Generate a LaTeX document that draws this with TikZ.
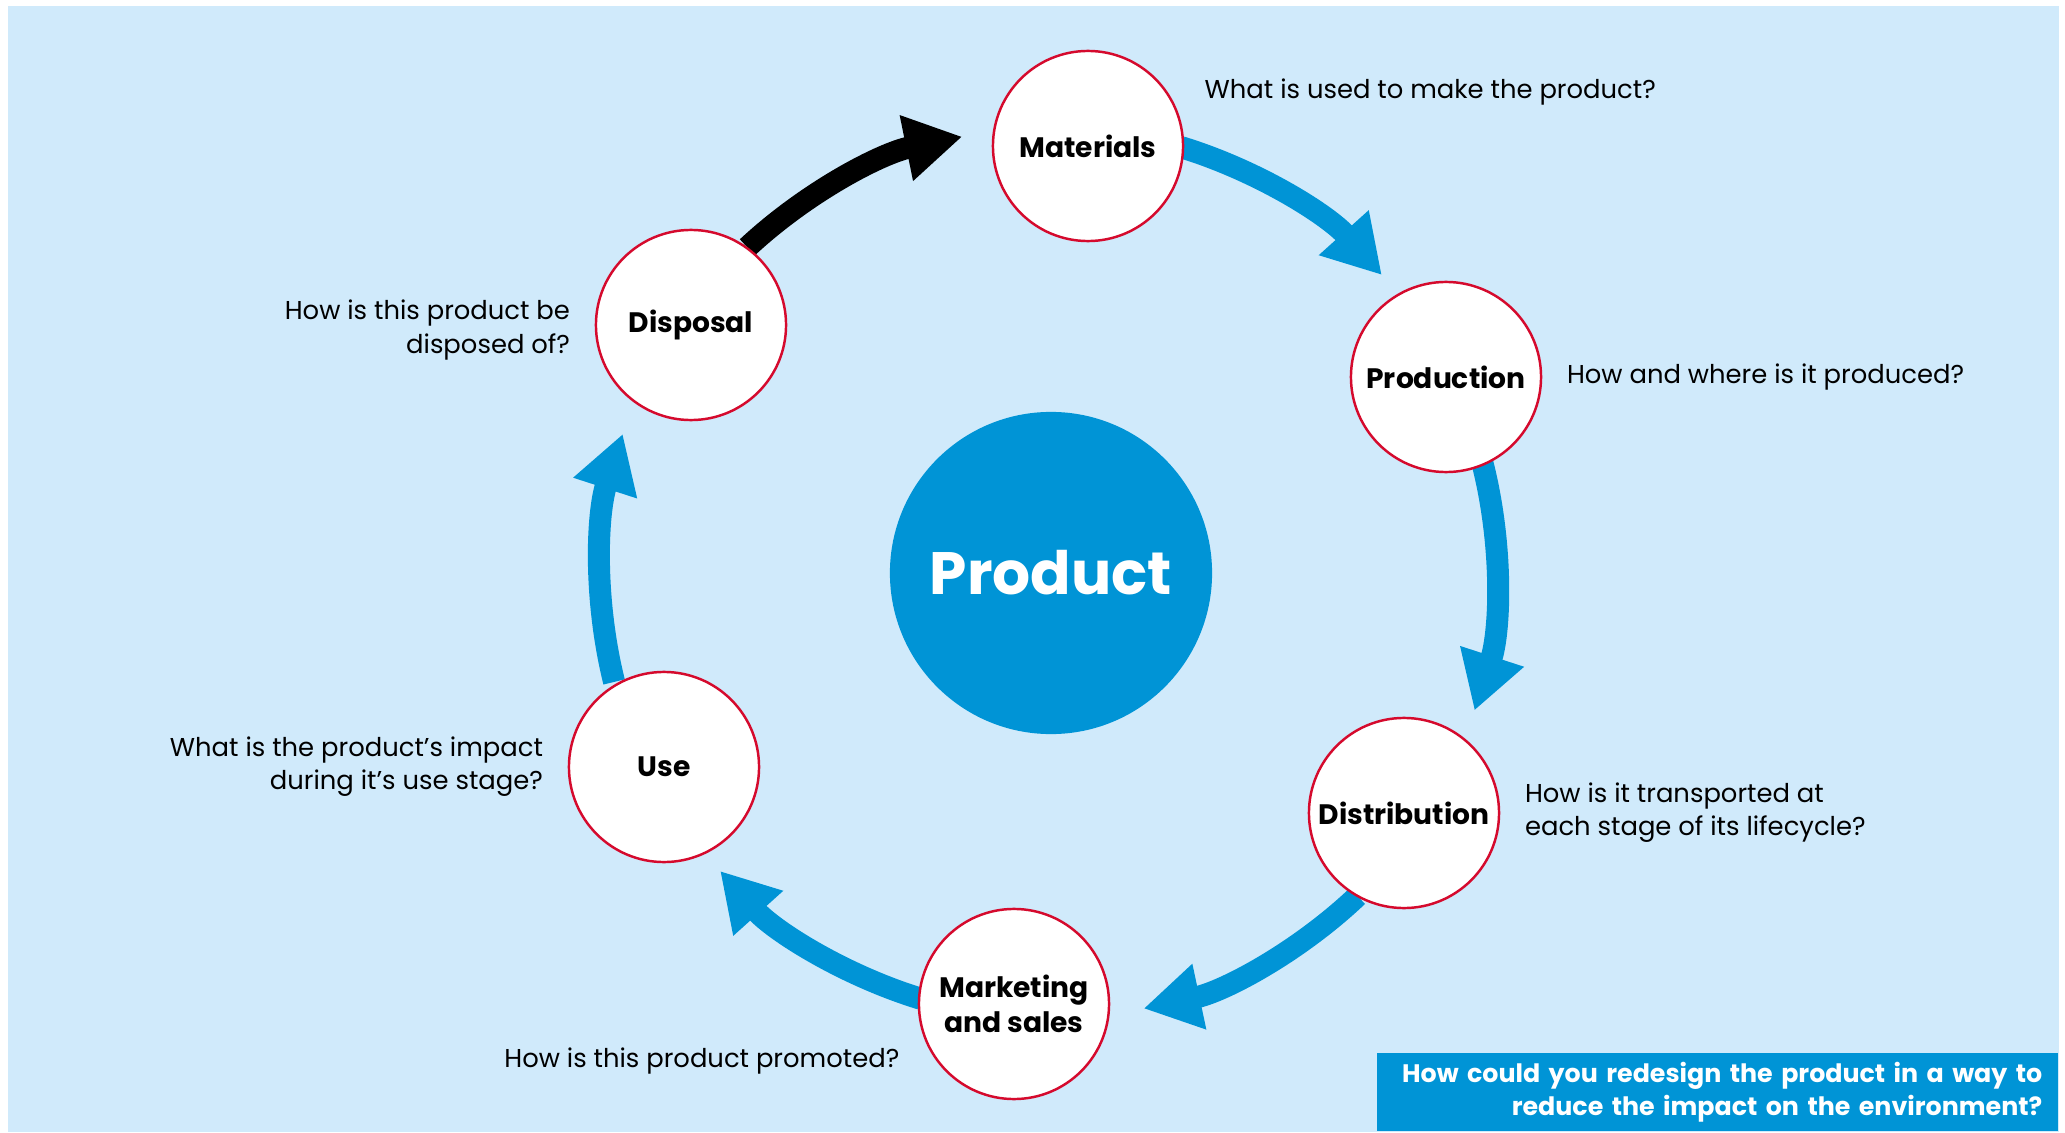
\documentclass[tikz,border=0pt]{standalone}
\usepackage{fontspec}
\setmainfont{Poppins}
\usetikzlibrary{positioning, arrows.meta}

\definecolor{skyback}{RGB}{208,234,251}
\definecolor{prodblue}{RGB}{0,148,214}
\definecolor{ringred}{RGB}{213,10,45}

\begin{document}
\begin{tikzpicture}[x=0.01cm, y=0.01cm, node distance=0.24cm,
stage/.style={circle, draw=ringred, line width=0.7pt, fill=white, minimum size=1.9cm, inner sep=0pt, align=center, font=\bfseries\fontsize{8}{10}\selectfont},
ask/.style={inner sep=0pt, font=\fontsize{7.35}{9.4}\selectfont},
flow/.style={prodblue, line width=0.22cm, -{Triangle[width=0.63cm, length=0.57cm]}},
askbox/.style={fill=prodblue, text=white, inner xsep=0.16cm, inner ysep=0pt, text width=6.49cm, minimum height=0.78cm, align=right, font=\bfseries\fontsize{7.2}{9.2}\selectfont}]
\useasboundingbox (0,0) rectangle (2065,1132);
\fill[skyback] (8,0) rectangle (2059,1126);

\node (P) [circle, fill=prodblue, minimum size=3.22cm, text=white, font=\bfseries\fontsize{17}{20}\selectfont] at (1051,559) {Product};

% arrows round the cycle
\draw[flow] ([shift={(73:4.45cm)}]P.center) arc[start angle=73, end angle=42, radius=4.45cm];
\draw[flow] ([shift={(14.5:4.45cm)}]P.center) arc[start angle=14.5, end angle=-18, radius=4.45cm];
\draw[flow] ([shift={(-46.5:4.45cm)}]P.center) arc[start angle=-46.5, end angle=-78, radius=4.45cm];
\draw[flow] ([shift={(-107:4.45cm)}]P.center) arc[start angle=-107, end angle=-138, radius=4.45cm];
\draw[flow] ([shift={(194:4.5cm)}]P.center) arc[start angle=194, end angle=162, radius=4.5cm];
\draw[flow, black] ([shift={(133:4.45cm)}]P.center) arc[start angle=133, end angle=101.5, radius=4.45cm];

\node (A) [stage] at (1088,986) {Materials};
\node (B) [stage] at (1446,755) {Production};
\node (C) [stage] at (1404,319) {Distribution};
\node (D) [stage] at (1014,128) {Marketing\\and sales};
\node (E) [stage] at (664,365) {Use};
\node (F) [stage] at (691,807) {Disposal};

\node (qA) [ask, anchor=west] at (1204,1040) {What is used to make the product?};
\node (qB) [ask, right = of B] {How and where is it produced?};
\node (qC) [ask, align=left, right = of C] {How is it transported at\\each stage of its lifecycle?};
\node (qD) [ask, anchor=east] at (900,71) {How is this product promoted?};
\node (qE) [ask, align=right, left = of E] {What is the product's impact\\during it's use stage?};
\node (qF) [ask, align=right, left = of F, yshift=-0.05cm] {How is this product be\\disposed of?};

\node (R) [askbox, anchor=south east] at (2059,0) {How could you redesign the product in a way to\\reduce the impact on the environment?};
\end{tikzpicture}
\end{document}
